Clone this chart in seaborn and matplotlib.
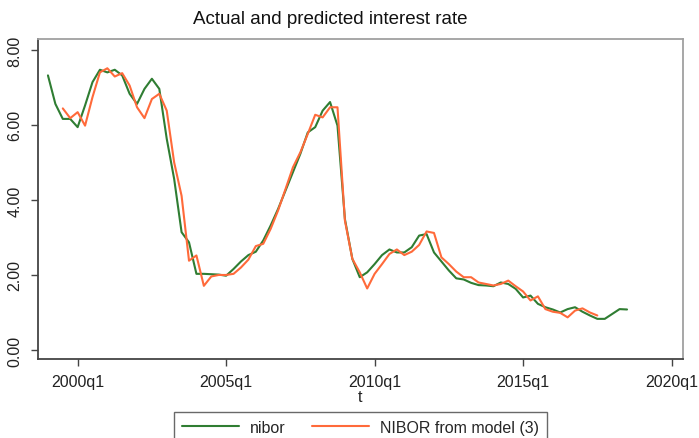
import matplotlib
matplotlib.use("Agg")
import matplotlib.pyplot as plt
import seaborn as sns
import pandas as pd
import numpy as np

# ---- data (quarterly) ----
nibor_start = "1999Q1"
nibor = [7.32, 6.56, 6.16, 6.16, 5.94, 6.52, 7.14, 7.47, 7.40, 7.47,
         7.32, 6.83, 6.56, 6.96, 7.23, 6.96, 5.63, 4.56, 3.14, 2.87,
         2.03, 2.03, 2.02, 2.01, 1.98, 2.16, 2.36, 2.53, 2.62, 2.92,
         3.32, 3.76, 4.25, 4.74, 5.23, 5.80, 5.94, 6.38, 6.61, 5.98,
         3.49, 2.43, 1.94, 2.07, 2.29, 2.53, 2.68, 2.60, 2.60, 2.74,
         3.05, 3.09, 2.60, 2.36, 2.12, 1.91, 1.88, 1.79, 1.73, 1.72,
         1.70, 1.80, 1.76, 1.63, 1.40, 1.45, 1.23, 1.14, 1.08, 1.00,
         1.09, 1.14, 1.02, 0.92, 0.83, 0.83, 0.96, 1.09, 1.08]

model_start = "1999Q3"
model = [6.44, 6.18, 6.34, 5.98, 6.74, 7.40, 7.51, 7.29, 7.38, 7.05,
         6.47, 6.18, 6.69, 6.83, 6.38, 5.00, 4.11, 2.38, 2.52, 1.71,
         1.96, 2.00, 2.00, 2.03, 2.20, 2.41, 2.77, 2.83, 3.23, 3.72,
         4.29, 4.87, 5.27, 5.76, 6.27, 6.20, 6.47, 6.47, 3.45, 2.43,
         2.07, 1.64, 2.03, 2.29, 2.56, 2.68, 2.53, 2.62, 2.80, 3.16,
         3.12, 2.47, 2.29, 2.09, 1.94, 1.94, 1.80, 1.76, 1.72, 1.76,
         1.85, 1.70, 1.56, 1.32, 1.43, 1.09, 1.02, 0.99, 0.87, 1.05,
         1.11, 1.00, 0.92]

tick_years = [2000, 2005, 2010, 2015, 2020]
yticks = [0, 2, 4, 6, 8]
labels = ["nibor", "NIBOR from model (3)"]
colors = ["#2f7d32", "#ff6a3a"]


def tq(period):
    # Stata-style quarterly date: quarters since 1960q1
    return (period.year - 1960) * 4 + (period.quarter - 1)


p1 = pd.period_range(nibor_start, periods=len(nibor), freq="Q")
p2 = pd.period_range(model_start, periods=len(model), freq="Q")
df = pd.concat([
    pd.DataFrame({"t": [tq(p) for p in p1], "rate": nibor, "series": labels[0]}),
    pd.DataFrame({"t": [tq(p) for p in p2], "rate": model, "series": labels[1]}),
])

sns.set_style("white")
plt.rcParams["font.family"] = ["Liberation Sans", "DejaVu Sans"]

fig = plt.figure(figsize=(6.99, 4.39), dpi=100)
ax = fig.add_axes([38 / 699, 1 - 360 / 439, (683 - 38) / 699, (360 - 40) / 439])

sns.lineplot(data=df, x="t", y="rate", hue="series", hue_order=labels,
             palette=colors, linewidth=1.5, ax=ax, legend=False)

t0 = tq(pd.Period("2000Q1", freq="Q"))
ax.set_xlim(t0 - 5.34, t0 + 81.54)
ax.set_ylim(-0.24, 8.29)

xt = [tq(pd.Period(f"{y}Q1", freq="Q")) for y in tick_years]
ax.set_xticks(xt)
ax.set_xticklabels([f"{y}q1" for y in tick_years], fontsize=11.5, color="#222222")
ax.set_yticks(yticks)
ax.set_yticklabels([f"{v:.2f}" for v in yticks], fontsize=11.5, rotation=90,
                   va="center", color="#222222")
ax.tick_params(axis="both", which="both", length=5, width=1.0, color="#444444",
               bottom=True, left=True, top=False, right=False)
ax.tick_params(axis="x", pad=6)
ax.tick_params(axis="y", pad=6)
ax.set_xlabel("t", fontsize=11.5, labelpad=0, color="#222222")
ax.set_ylabel("")

for side in ["left", "bottom"]:
    ax.spines[side].set_color("#444444")
    ax.spines[side].set_linewidth(1.3)
for side in ["top", "right"]:
    ax.spines[side].set_color("#a0a0a0")
    ax.spines[side].set_linewidth(1.3)
    ax.spines[side].set_visible(True)

fig.text(330 / 699, 1 - 24 / 439, "Actual and predicted interest rate",
         ha="center", va="baseline", fontsize=13.5, color="#111111")

from matplotlib.lines import Line2D
handles = [Line2D([], [], color=c, linewidth=1.5) for c in colors]
leg = fig.legend(handles, labels, loc="upper center",
                 bbox_to_anchor=(360.5 / 699, 1 - 413 / 439), ncol=2,
                 fontsize=11.5, frameon=True, fancybox=False, borderaxespad=0,
                 handlelength=3.6, handletextpad=0.7, columnspacing=1.6,
                 borderpad=0.5)
leg.get_frame().set_edgecolor("#444444")
leg.get_frame().set_linewidth(1.0)

fig.savefig("out.png", dpi=100, facecolor="white")
